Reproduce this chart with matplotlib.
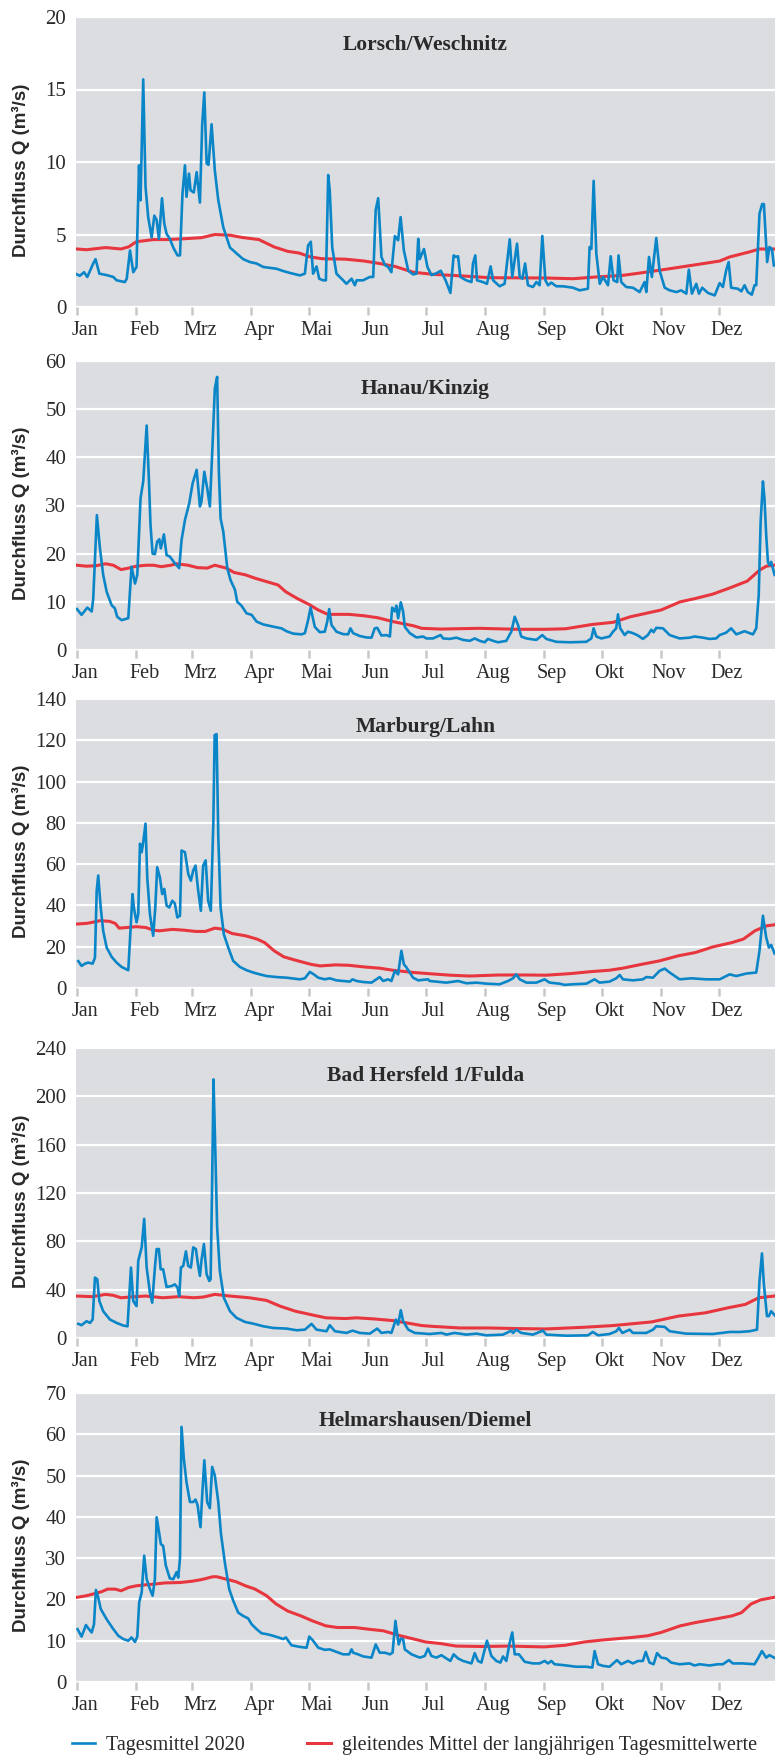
import matplotlib.pyplot as plt
from matplotlib.transforms import ScaledTranslation

plt.rcParams['font.family'] = ['Liberation Serif', 'DejaVu Serif']
plt.rcParams['text.color'] = '#2a2a2a'
plt.rcParams['xtick.color'] = '#2a2a2a'
plt.rcParams['ytick.color'] = '#2a2a2a'

# Monate 2020 (Schaltjahr), Tag im Jahr des Monatsbeginns
months = ['Jan', 'Feb', 'Mrz', 'Apr', 'Mai', 'Jun', 'Jul', 'Aug', 'Sep', 'Okt', 'Nov', 'Dez']
month_start = [0, 31, 60, 91, 121, 152, 182, 213, 244, 274, 305, 335]

stations = ['Lorsch/Weschnitz', 'Hanau/Kinzig', 'Marburg/Lahn',
            'Bad Hersfeld 1/Fulda', 'Helmarshausen/Diemel']
y_max = [20, 60, 140, 240, 70]
y_step = [5, 10, 20, 40, 10]

# (Tag im Jahr, Abfluss m³/s)
lorsch_q2020 = [
    (0, 2.25), (1.5, 2.15), (3.7, 2.4), (5.4, 2.07), (8.5, 3.0), (9.7, 3.3), (11.7, 2.3), (15.5, 2.2),
    (19, 2.07), (20.7, 1.84), (25, 1.72), (26, 1.95), (27.7, 3.9), (29.4, 2.4), (31.1, 2.76), (32.4, 9.77),
    (33.2, 7.36), (34.6, 15.7), (35.8, 8.3), (37.2, 6.2), (39, 4.8), (40.4, 6.3), (41.6, 6.0), (42.8, 4.7),
    (44.4, 7.5), (45.6, 5.75), (46.8, 5.05), (48.5, 4.7), (50.3, 4.1), (52.5, 3.56), (53.8, 3.56), (55.1, 7.8),
    (56.4, 9.77), (57.2, 7.6), (58.5, 9.2), (59.3, 8.05), (61, 7.9), (62.5, 9.3), (64.2, 7.2), (65.4, 12.6),
    (66.5, 14.8), (67.7, 9.9), (68.7, 9.8), (70.3, 12.6), (72, 9.4), (73.8, 7.36), (76.4, 5.5), (79.9, 4.1),
    (83.3, 3.7), (86.8, 3.3), (90.3, 3.1), (93.8, 3.0), (97.3, 2.76), (100.7, 2.7), (104.2, 2.64), (107.7, 2.48),
    (111.2, 2.35), (116.4, 2.18), (119, 2.3), (120.7, 4.25), (122.1, 4.5), (123.3, 2.3), (125.1, 2.8),
    (126.5, 1.95), (128.6, 1.84), (130, 1.84), (131.2, 9.1), (132, 8.05), (133.3, 4.1), (135.5, 2.3),
    (139, 1.84), (140.7, 1.6), (143.4, 1.95), (145.1, 1.5), (146, 1.84), (149.4, 1.84), (152.9, 2.07),
    (154.7, 2.07), (156, 6.7), (157.3, 7.5), (159, 3.45), (160.8, 2.9), (162.5, 2.76), (164.2, 2.4),
    (166, 4.9), (167.7, 4.6), (169, 6.2), (170.7, 3.9), (173, 2.5), (175.5, 2.25), (177.3, 2.3), (178.2, 4.7),
    (179, 3.3), (181.2, 4.0), (183, 2.76), (185.1, 2.2), (187.3, 2.3), (190, 2.5), (192.5, 1.84), (195, 0.97),
    (196.7, 3.56), (197.8, 3.45), (199, 3.5), (200.2, 2.07), (203.3, 1.84), (206, 1.72), (206.8, 3.0),
    (208, 3.56), (208.9, 1.84), (212, 1.72), (214.1, 1.6), (216, 2.8), (217.3, 1.84), (220.7, 1.43),
    (223.3, 1.6), (226, 4.67), (227.3, 2.07), (229.8, 4.37), (231.2, 2.07), (232.6, 1.95), (234, 3.0),
    (235.5, 1.5), (238.1, 1.38), (239.9, 1.72), (241.6, 1.5), (243, 4.9), (244.6, 1.84), (246, 1.5),
    (247.7, 1.68), (250.3, 1.43), (253.8, 1.43), (259, 1.33), (262.5, 1.15), (266.8, 1.26), (267.7, 4.14),
    (268.6, 4.0), (269.8, 8.7), (271.2, 3.68), (273, 1.6), (274.7, 2.07), (277.3, 1.5), (278.7, 3.5),
    (280.2, 1.84), (282.1, 1.72), (282.8, 3.56), (284.2, 1.72), (286.8, 1.38), (290.3, 1.33), (293.8, 1.03),
    (296.4, 1.72), (297.3, 1.03), (298.7, 3.45), (300.2, 2.07), (302.5, 4.76), (304.2, 2.53), (306.9, 1.33),
    (309.5, 1.15), (313, 1.03), (315.5, 1.15), (318.2, 0.92), (319.5, 2.57), (321.1, 0.92), (323.4, 1.6),
    (324.8, 0.92), (326.5, 1.33), (329.5, 0.97), (333, 0.8), (335.6, 1.65), (337.3, 1.38), (339, 2.53),
    (340.3, 3.1), (341.6, 1.33), (345.1, 1.26), (346.9, 1.08), (348.6, 1.5), (350.3, 1.03), (352.4, 0.85),
    (353.8, 1.5), (354.7, 1.5), (356.4, 6.44), (357.8, 7.1), (358.7, 7.1), (360.4, 3.1), (361.6, 4.14),
    (362.9, 4.0), (363.9, 2.87)]
lorsch_mean = [
    (0, 4.0), (5, 3.95), (15, 4.1), (23, 4.0), (27, 4.15), (31, 4.5), (40, 4.65), (47, 4.65), (55, 4.7),
    (65, 4.78), (72, 5.0), (80, 4.95), (86, 4.8), (95, 4.65), (103, 4.14), (110, 3.84), (116, 3.72),
    (122, 3.45), (128, 3.33), (140, 3.3), (150, 3.17), (158, 3.0), (166, 2.8), (175.5, 2.4), (186, 2.25),
    (201.6, 2.14), (215.5, 2.02), (245, 2.0), (259, 1.95), (271, 2.07), (285, 2.18), (293.8, 2.34),
    (306, 2.57), (323.4, 2.92), (335.6, 3.17), (340.8, 3.45), (351.2, 3.8), (356.4, 4.0), (364, 4.0)]

hanau_q2020 = [
    (0, 8.5), (2.4, 7.3), (5.4, 8.8), (7.7, 8.0), (8.5, 10.7), (10.4, 28), (12, 21.1), (13.7, 15.6),
    (15.5, 12.1), (18.1, 9.3), (19.8, 8.65), (21, 6.9), (23.3, 6.2), (25, 6.4), (26.8, 6.6), (28.5, 17.3),
    (30.3, 13.8), (31.5, 15.6), (33.2, 31.5), (34.6, 35), (36.4, 46.6), (37.6, 35), (38.4, 26), (39.5, 20),
    (40.7, 19.9), (41.9, 22.5), (43, 23), (43.8, 21.1), (45.4, 24), (46.8, 19.7), (48.5, 19.4), (51.1, 18),
    (53.4, 17), (54.6, 22.8), (56.4, 27), (58.6, 30.4), (60.4, 34.6), (62.5, 37.4), (64.2, 29.8), (65, 30.8),
    (66.5, 37), (68, 33.6), (69.4, 29.8), (70.8, 42.6), (72, 54.3), (73.2, 56.7), (74.1, 37), (75, 27.3),
    (76.4, 24.6), (78.5, 17), (80.2, 14.5), (82.5, 12.5), (83.7, 10), (85.9, 9.2), (88.6, 7.6), (91.2, 7.3),
    (93.8, 5.9), (97.3, 5.3), (100.7, 5.0), (104.2, 4.7), (106.8, 4.5), (109.4, 3.9), (112.9, 3.4),
    (117.3, 3.25), (119, 3.5), (120.7, 6.2), (122, 8.8), (124.2, 4.8), (126.8, 3.7), (129.4, 3.8),
    (130.7, 5.9), (131.7, 8.5), (132.9, 5.2), (135.5, 3.8), (139, 3.3), (141.6, 3.25), (142.8, 4.5),
    (144.2, 3.5), (147.7, 2.9), (151.2, 2.6), (153.8, 2.56), (155.5, 4.5), (156.8, 4.6), (159, 3.0),
    (161.6, 3.1), (163.4, 2.8), (164.6, 8.8), (166, 8.0), (166.8, 9.2), (167.7, 6.6), (169.1, 9.9),
    (170.3, 8.0), (171.2, 4.8), (173.8, 3.5), (177.3, 2.6), (180.7, 2.8), (182.5, 2.4), (185.9, 2.4),
    (189.9, 3.1), (191.2, 2.4), (194.6, 2.3), (198.1, 2.56), (201.6, 2.1), (205.1, 1.9), (207.7, 2.4),
    (210.3, 1.9), (212.9, 1.6), (214.6, 2.3), (217.3, 1.9), (219.9, 1.6), (224.2, 1.9), (226.8, 3.8),
    (228.6, 6.9), (230.3, 5.2), (232, 2.8), (234.7, 2.4), (239.9, 2.1), (243, 3.1), (245.1, 2.3),
    (250.3, 1.7), (257.3, 1.6), (266, 1.7), (268.6, 2.4), (269.8, 4.5), (271.2, 2.8), (273.8, 2.4),
    (278.1, 2.8), (279.9, 3.8), (281.6, 4.5), (282.5, 7.4), (283.7, 4.5), (286, 3.1), (287.7, 3.8),
    (290.3, 3.5), (293, 3.0), (295.5, 2.3), (298.1, 3.1), (299.9, 4.2), (301.1, 3.7), (302.5, 4.6),
    (306, 4.5), (309.5, 3.1), (314.7, 2.4), (319.9, 2.56), (322.5, 2.8), (326.9, 2.56), (330.3, 2.3),
    (333.8, 2.4), (335.6, 3.1), (339, 3.6), (341.6, 4.5), (344.3, 3.25), (348.6, 3.9), (351.2, 3.5),
    (353, 3.25), (354.7, 4.5), (356, 11.4), (357, 26.6), (358.2, 35), (359, 31.5), (359.9, 23.9),
    (360.8, 18.3), (361.6, 17.6), (362.5, 18.3), (364.3, 15.6)]
hanau_mean = [
    (0, 17.6), (5, 17.4), (10, 17.5), (15, 17.9), (19, 17.6), (23, 16.7), (27, 17.0), (31, 17.4), (36, 17.6),
    (40, 17.6), (44, 17.3), (49, 17.6), (52, 17.9), (58, 17.6), (63, 17.1), (68, 17.0), (72, 17.6), (78, 17.0),
    (82, 16.1), (88, 15.6), (93, 14.9), (99, 14.2), (105, 13.5), (109, 12.1), (115, 10.7), (121, 9.5),
    (126, 8.3), (131, 7.4), (142, 7.4), (150, 7.1), (157, 6.7), (165, 5.9), (176, 5.0), (180, 4.5),
    (190, 4.35), (210, 4.5), (230, 4.3), (245, 4.3), (255, 4.4), (269, 5.3), (280, 5.75), (289, 6.9),
    (297, 7.6), (305, 8.3), (315, 10.0), (323, 10.7), (332, 11.6), (341, 12.9), (350, 14.3), (356.5, 16.6),
    (360, 17.4), (364, 17.6)]

marburg_q2020 = [
    (0.7, 13), (2.4, 10.7), (4.2, 11.8), (5.9, 12.3), (8.2, 11.8), (9.4, 14.7), (10.3, 47), (11.1, 54.5),
    (12.4, 39), (13.7, 27.7), (15.5, 19.6), (18.1, 15.1), (20.7, 12.3), (23.3, 10.2), (26.8, 8.6), (29, 45.5),
    (29.7, 39), (31.1, 31.8), (32, 35.8), (32.9, 69.9), (33.8, 65.8), (34.6, 70.7), (35.8, 79.6), (36.7, 53.6),
    (38.1, 35.8), (39.8, 25.3), (40.9, 39), (41.9, 58.5), (43.3, 53.6), (44.5, 45.5), (45.6, 48), (46.8, 39.9),
    (48.2, 39), (49.8, 42.3), (51.1, 41), (52.4, 34.2), (53.8, 35), (54.6, 66.6), (56.4, 65.8), (58.1, 55.3),
    (59.5, 52), (60.7, 56.9), (61.9, 59.3), (63.3, 47.2), (64.7, 37.4), (65.9, 59.3), (67.2, 61.8),
    (68.5, 42.3), (69.9, 37.4), (71.2, 79.6), (71.9, 122.5), (72.9, 123), (73.8, 73.1), (75, 39), (76.7, 26),
    (79, 19.6), (81.6, 13.1), (85.1, 10.2), (88.6, 8.6), (92, 7.5), (95.5, 6.6), (99, 5.8), (104.2, 5.3),
    (109.4, 5.0), (112, 4.7), (116.4, 4.2), (119, 4.7), (121.6, 7.8), (123.7, 6.6), (126, 5.0), (129.4, 4.2),
    (132, 4.7), (135.5, 3.7), (139, 3.4), (142.5, 3.1), (143.9, 4.2), (146, 3.4), (149.4, 2.9), (153.8, 2.6),
    (156.4, 4.2), (158.1, 5.3), (159.9, 3.4), (162.5, 4.2), (164.2, 3.4), (166, 8.3), (167.7, 6.6),
    (169.4, 18), (170.7, 11.5), (172.1, 9.9), (175.5, 5.0), (178.2, 3.7), (183.3, 4.2), (184.2, 3.4),
    (192.9, 2.6), (199, 3.4), (203.3, 2.3), (208.6, 2.6), (213.8, 2.1), (220.7, 1.8), (225.1, 3.4),
    (227.7, 4.7), (229.4, 6.6), (231.2, 4.2), (234.7, 2.6), (239.9, 2.6), (244.2, 4.2), (246.8, 2.6),
    (252, 2.1), (254.7, 1.5), (259, 1.8), (266, 2.1), (270.3, 4.2), (272.9, 2.6), (278.1, 3.1), (281.6, 4.7),
    (283.4, 6.3), (285.1, 4.2), (290.3, 3.7), (295.5, 4.2), (297.3, 5.3), (300.8, 5.0), (304.2, 8.3),
    (306.9, 9.4), (309.5, 7.5), (314.7, 4.2), (320.8, 4.7), (328.6, 4.2), (335.6, 4.2), (340.8, 6.6),
    (344.3, 5.8), (349.5, 7.0), (354.7, 7.5), (356.4, 18), (358.2, 35), (359.9, 24.5), (361.3, 19.6),
    (362.5, 20.9), (364.3, 16.7)]
marburg_mean = [
    (0, 31), (5, 31.3), (8, 31.8), (12, 32.6), (17, 32.3), (20, 31.3), (22, 29), (26, 29.3), (31, 29.7),
    (36, 29.3), (40, 28), (43, 27.7), (50, 28.4), (56, 28), (62, 27.4), (67, 27.4), (72, 29), (76, 28.5),
    (81, 26.4), (88, 25.3), (94, 23.7), (98, 22), (103, 18), (108, 15.1), (114, 13.5), (122, 11.5),
    (127, 10.7), (135, 11.2), (142, 11), (150, 10.2), (158, 9.6), (165, 8.6), (176, 7.5), (183, 7.0),
    (195, 6.2), (205, 5.8), (220, 6.3), (235, 6.3), (245, 6.2), (258, 7.0), (268, 7.9), (278, 8.6),
    (285, 9.6), (295, 11.5), (304, 13.1), (314, 15.6), (323, 17.2), (332, 19.9), (342, 22), (348, 23.7),
    (354, 27.7), (360, 30.1), (364, 30.6)]

hersfeld_q2020 = [
    (0.7, 11.7), (2.4, 10.6), (5, 13.9), (6.8, 12.5), (8.2, 15.3), (9.4, 50), (10.6, 48.6), (11.7, 30.6),
    (13.7, 22.2), (17.2, 15.3), (20.7, 12.5), (24.2, 10.3), (26.4, 9.7), (28.2, 58.3), (29.4, 30.6),
    (31.1, 26.4), (32, 63.9), (33.8, 75), (35.1, 98.6), (36.4, 58.3), (38.1, 37.5), (39.3, 29.2),
    (40.7, 58.3), (41.6, 73.6), (42.8, 73.6), (43.7, 56.9), (45, 56.9), (46.8, 42.2), (49.4, 43),
    (51.1, 44.4), (52.5, 41.7), (53.4, 34.7), (54.3, 58.3), (55.5, 59.7), (56.9, 71.7), (58.1, 59.7),
    (59.5, 58.3), (60.7, 75), (62.1, 73.6), (63.3, 59.7), (64.2, 51.4), (65, 63.9), (66.3, 77.8),
    (67.7, 52.8), (69.1, 47.2), (69.8, 48.6), (70.6, 130), (71.3, 214), (72.2, 158), (73.2, 91.7),
    (74.6, 55.6), (76.7, 33.3), (79.9, 22.2), (83.3, 16.7), (87.7, 13.3), (92, 11.9), (97.3, 9.7),
    (102.5, 8.3), (109.4, 7.8), (114.7, 6.4), (119, 6.9), (122.5, 11.7), (125.1, 6.9), (130.3, 5.6),
    (132, 10.6), (134.7, 5.6), (140.7, 4.2), (143.9, 6.1), (147.7, 4.2), (152.9, 3.6), (154.7, 5.6),
    (156.8, 7.8), (159, 4.2), (162.5, 5.0), (164.2, 4.2), (166.5, 15.3), (167.7, 11.1), (169.1, 23),
    (170.3, 13.9), (173, 6.9), (176.4, 4.2), (184.2, 3.3), (190.3, 4.2), (192.9, 2.8), (197.2, 4.2),
    (203.3, 2.8), (208.6, 3.6), (213.8, 2.2), (222.5, 2.8), (226.8, 6.1), (227.7, 4.2), (229.4, 6.9),
    (232, 4.2), (238.1, 2.8), (243.3, 6.1), (245.1, 2.8), (255.5, 1.9), (266.8, 2.2), (269.4, 5.0),
    (272.1, 2.2), (278.1, 3.3), (281.6, 5.6), (283, 8.3), (284.8, 4.2), (288.6, 6.9), (290.3, 4.2),
    (297.3, 4.2), (300.8, 6.9), (302.5, 9.7), (306.9, 9.2), (309.5, 5.6), (318.2, 3.6), (332.1, 3.3),
    (340.8, 5.0), (346, 5.0), (351.2, 5.6), (355.1, 6.9), (356.4, 47.2), (357.7, 70), (358.7, 44.4),
    (360.3, 18.1), (361.3, 18.1), (362.5, 22.2), (364.3, 18.9)]
hersfeld_mean = [
    (0, 34.7), (8, 34.2), (15, 36.1), (19, 35.3), (23, 33.3), (30, 34.2), (36, 34.7), (45, 33.3), (53, 34.2),
    (61, 33.3), (66, 33.9), (72, 36.1), (80, 34.7), (90, 33.3), (99, 31.1), (106, 26.4), (114, 22.2),
    (122, 19.4), (130, 16.7), (140, 16.1), (146, 16.7), (155, 15.8), (165, 14.4), (175, 11.7), (180, 10.3),
    (185, 9.7), (200, 8.3), (215, 8.3), (230, 7.8), (245, 7.5), (265, 8.9), (280, 10.3), (300, 13.3),
    (314, 18.1), (328, 20.8), (340, 25), (349, 27.8), (356, 33.3), (364, 34.7)]

helmarshausen_q2020 = [
    (0.3, 12.8), (2.4, 11), (4.7, 13.8), (5.9, 13), (7.7, 12), (8.9, 14), (9.9, 22.3), (11.1, 20.5),
    (12.4, 17.7), (15.5, 15.2), (19, 12.8), (21.6, 11.2), (24.2, 10.4), (26.8, 10), (28.5, 10.8), (30.3, 9.7),
    (31.5, 11), (32.5, 19.3), (33.8, 21.7), (35.1, 30.6), (36.4, 24.9), (38.1, 22.5), (39.5, 20.9),
    (40.7, 24.9), (41.6, 39.9), (43, 35.9), (43.8, 33.4), (45, 33), (46.4, 28.2), (48.5, 25.1), (50.3, 24.9),
    (52, 26.6), (52.9, 25.3), (53.8, 30), (54.6, 61.8), (55.8, 54.1), (57.2, 48.4), (59, 43.6), (60.7, 43.6),
    (61.9, 44.2), (63, 42.8), (64.5, 37.5), (65.4, 45.2), (66.5, 53.7), (68, 43.6), (69.4, 42.1),
    (70.6, 52.1), (72, 50), (73.8, 43.6), (75.2, 35.9), (77.2, 29), (79.5, 22.5), (81.6, 19.7), (84.2, 16.8),
    (86.8, 16), (89.4, 15.4), (91.2, 14), (93.8, 12.8), (96.4, 11.8), (99, 11.6), (101.6, 11.3),
    (105.1, 10.8), (107.7, 10.4), (109.1, 10.8), (112, 8.9), (116.4, 8.5), (119.9, 8.3), (121.3, 11),
    (123.3, 10), (126, 8.3), (129.4, 7.8), (132, 7.9), (135.5, 7.3), (139, 6.7), (142.1, 6.7), (143.4, 7.9),
    (144.2, 7.1), (146.8, 6.7), (149.4, 6.2), (153.8, 5.9), (156, 9.1), (158.1, 7.1), (160.8, 7.1),
    (163.4, 6.7), (164.8, 7.1), (166.3, 14.8), (168, 9.1), (169.1, 10.5), (170.3, 10.4), (171.2, 7.9),
    (174.7, 6.7), (179, 5.9), (181.6, 6.3), (183.3, 8.1), (185.1, 6.3), (187.7, 5.9), (190.3, 6.5),
    (192.9, 5.7), (195, 5.1), (196.7, 6.7), (199, 5.7), (201.6, 5.1), (206, 4.5), (207.7, 7), (209.4, 5.1),
    (211.2, 4.7), (214.1, 10), (216.4, 6.3), (219, 5.1), (221.1, 4.7), (222.5, 6.2), (224.2, 5.1), (226, 9.6),
    (227.3, 12), (228.6, 6.7), (230.8, 6.7), (233.8, 4.9), (238.1, 4.5), (241.6, 4.5), (244.2, 5.1),
    (246, 4.5), (247.7, 5.1), (249.4, 4.3), (253.8, 4.1), (260.7, 3.7), (266, 3.7), (269.1, 3.5),
    (270.3, 7.5), (272.1, 4.3), (274.7, 3.9), (278.1, 3.7), (282, 5.3), (284.2, 4.3), (287.7, 5.1),
    (290.3, 4.5), (293, 5.1), (295.5, 5.1), (297, 7.3), (299, 4.7), (301.1, 4.3), (302.9, 7), (305.1, 5.9),
    (307.7, 5.7), (310.3, 4.7), (314.7, 4.3), (319.9, 4.5), (322.5, 4), (325.1, 4.3), (330.3, 4),
    (334.7, 4.3), (337.3, 4.3), (340.4, 5.3), (342.5, 4.5), (347.7, 4.5), (353.8, 4.3), (355.6, 5.7),
    (357.7, 7.5), (359.9, 5.9), (361.6, 6.5), (364, 5.9)]
helmarshausen_mean = [
    (0, 20.5), (5, 20.9), (10, 21.5), (13, 21.9), (16, 22.5), (20, 22.5), (23, 22.1), (27, 22.9), (31, 23.3),
    (35, 23.5), (40, 23.7), (46, 24), (54, 24.1), (60, 24.4), (65, 24.8), (71, 25.5), (73, 25.5), (78, 24.9),
    (83, 24.3), (88, 23.3), (93, 22.5), (99, 20.9), (104, 18.9), (110, 17.2), (117, 16), (123, 14.8),
    (130, 13.6), (136, 13.2), (145, 13.2), (152, 12.8), (160, 12.4), (168, 11.3), (176, 10.4), (182, 9.7),
    (190, 9.3), (198, 8.7), (212, 8.6), (225, 8.7), (244, 8.5), (255, 8.9), (265, 9.7), (275, 10.2),
    (290, 10.8), (298, 11.2), (305, 12), (315, 13.6), (323, 14.4), (335, 15.4), (342, 16), (347, 16.8),
    (352, 18.9), (357, 19.9), (364, 20.5)]

daily = [lorsch_q2020, hanau_q2020, marburg_q2020, hersfeld_q2020, helmarshausen_q2020]
longterm = [lorsch_mean, hanau_mean, marburg_mean, hersfeld_mean, helmarshausen_mean]

BLUE = '#0a86c8'
RED = '#e8363f'
BG = '#dcdde0'

W, H = 775, 1757
fig = plt.figure(figsize=(W / 100, H / 100), dpi=100)

# Panel-Grenzen in Pixeln (oben, unten)
panel_px = [(17, 307), (361, 650), (699, 988), (1048, 1338), (1393, 1682)]
left_px = 76

for i, (top, bottom) in enumerate(panel_px):
    ax = fig.add_axes([left_px / W, 1 - bottom / H, 1 - left_px / W, (bottom - top) / H])
    ax.set_facecolor(BG)
    for sp in ax.spines.values():
        sp.set_visible(False)

    d, q = zip(*daily[i])
    ax.plot(d, q, color=BLUE, lw=1.9, solid_joinstyle='round', zorder=3)
    d, q = zip(*longterm[i])
    ax.plot(d, q, color=RED, lw=2.2, solid_joinstyle='round', zorder=2)

    ax.set_xlim(-0.5, 364.5)
    ax.set_ylim(0, y_max[i])
    ax.set_yticks(range(0, y_max[i] + 1, y_step[i]))
    ax.grid(axis='y', color='white', lw=1.6)
    ax.set_axisbelow(True)
    ax.tick_params(axis='y', length=0, pad=7, labelsize=15)

    ax.set_xticks(month_start, months)
    ax.tick_params(axis='x', length=6, width=1.8, color='#c8c8c8', pad=4, labelsize=14.5)
    shift = ScaledTranslation(0.08, 0, fig.dpi_scale_trans)
    for lbl in ax.get_xticklabels():
        lbl.set_transform(lbl.get_transform() + shift)

    ax.text(0.5, 1 - 28 / (bottom - top), stations[i], transform=ax.transAxes,
            ha='center', va='center', fontsize=15.5, fontweight='bold')

    yc = (top + bottom) / 2 + 8
    fig.text(21 / W, 1 - yc / H, 'Durchfluss Q (m³/s)', rotation=90, ha='center', va='center',
             family=['Liberation Sans', 'DejaVu Sans'], fontweight='bold', fontsize=13.5)

    if i == 0:
        handles = ax.get_lines()

fig.legend(handles=[handles[0], handles[1]],
           labels=['Tagesmittel 2020', 'gleitendes Mittel der langjährigen Tagesmittelwerte'],
           loc='center left', bbox_to_anchor=(72 / W, 1 - 1745 / H), ncol=2, frameon=False,
           fontsize=14.5, handlelength=1.15, handletextpad=0.55, columnspacing=3.1,
           borderpad=0, borderaxespad=0)

fig.savefig('out.png', dpi=100, facecolor='white')
